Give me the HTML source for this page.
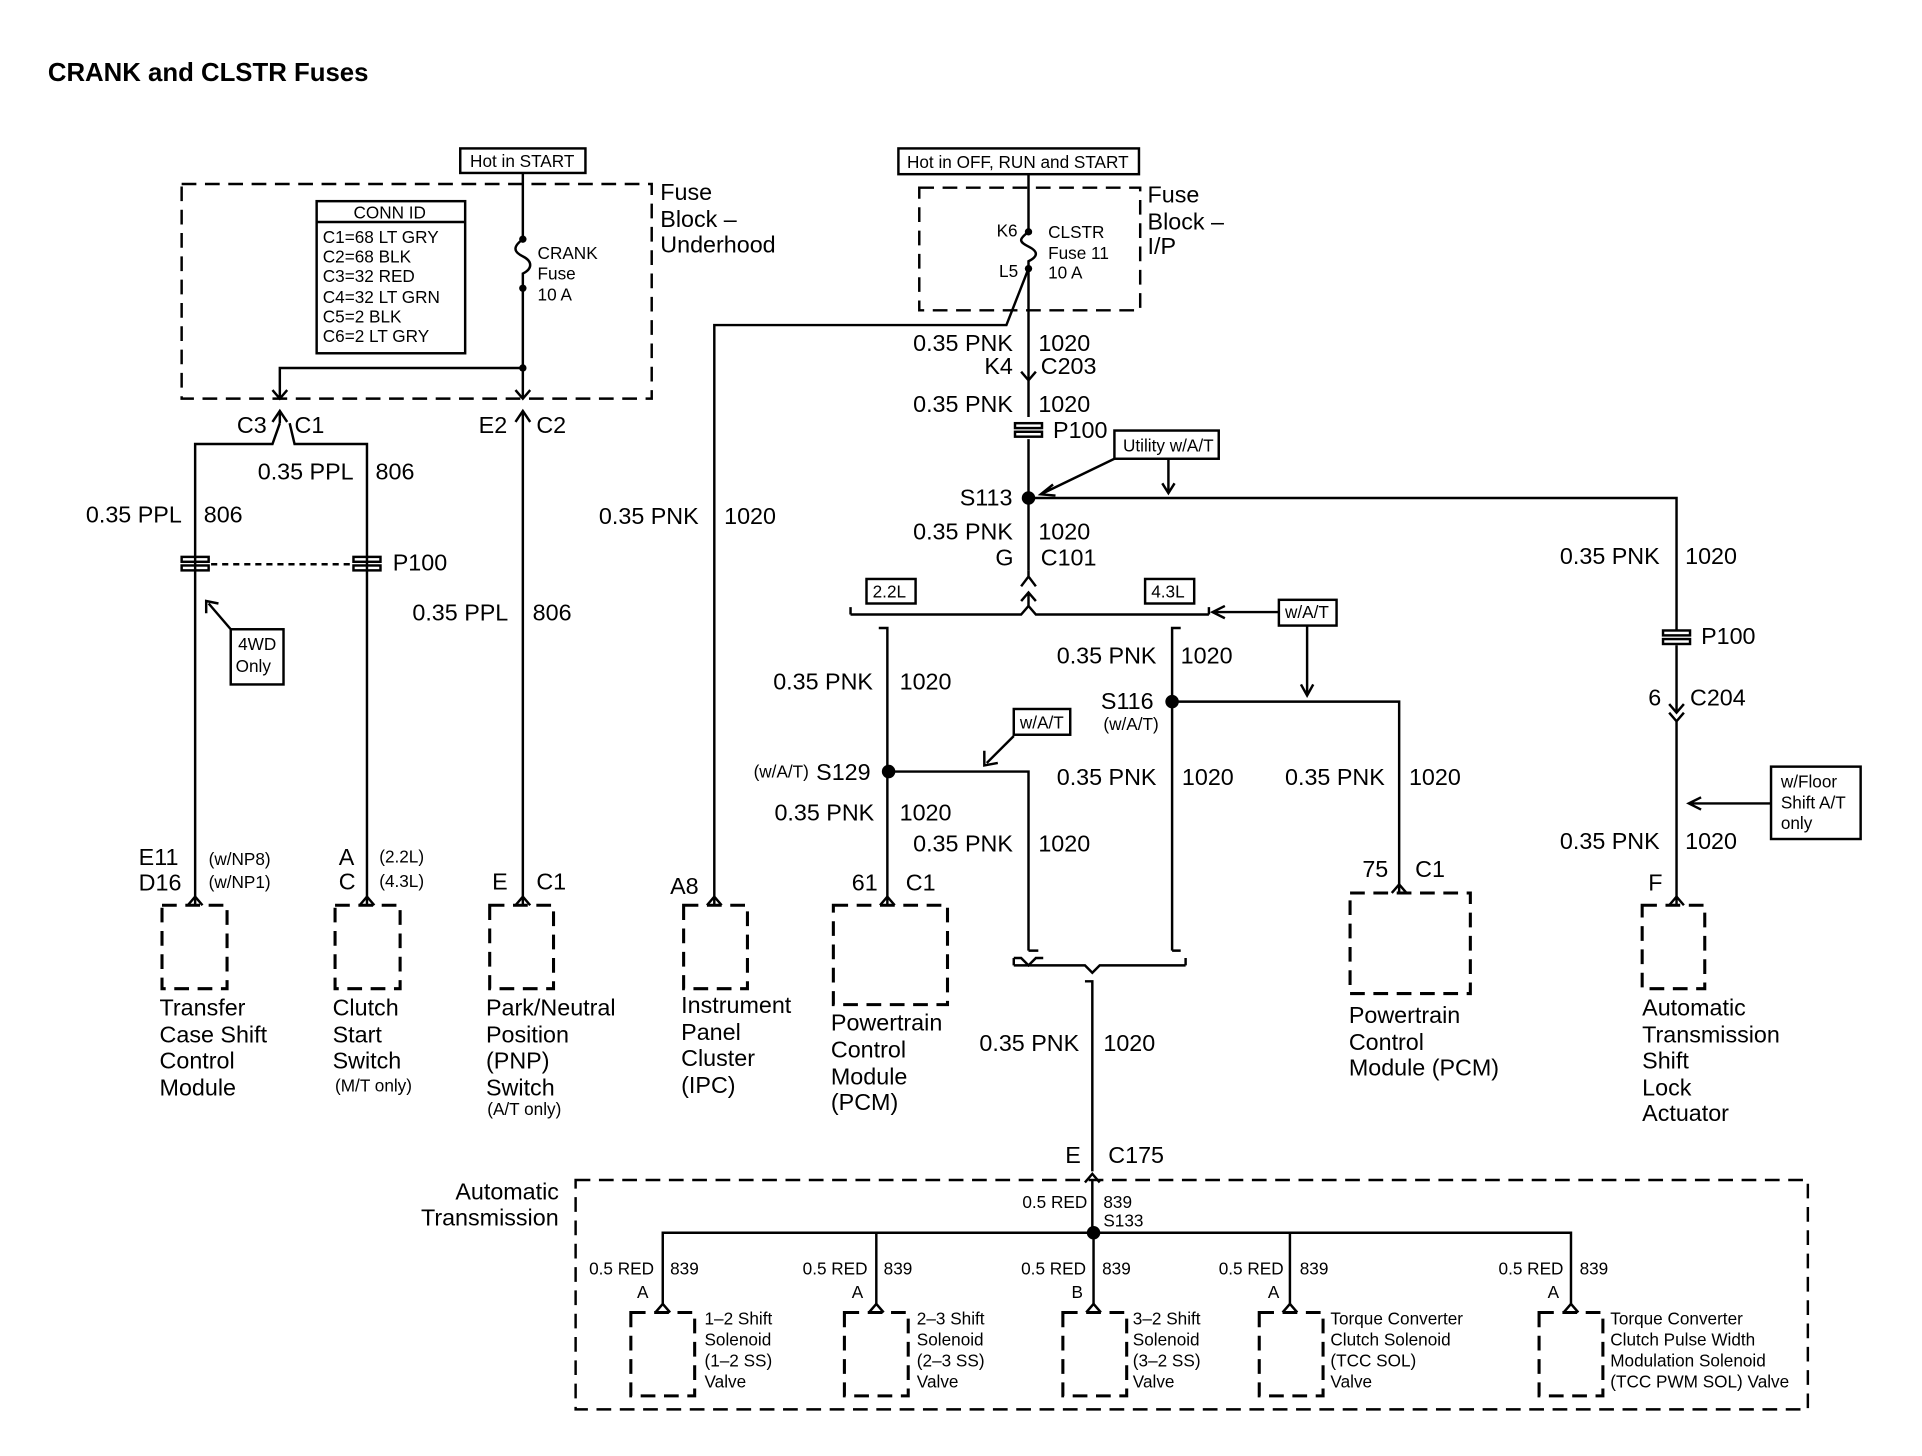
<!DOCTYPE html>
<html><head><meta charset="utf-8"><style>
html,body{margin:0;padding:0;background:#fff;}
svg{display:block;}
text{font-family:"Liberation Sans",Arial,sans-serif;fill:#000;}
.t{font-size:19px;}
.s{font-size:14px;}
</style></head><body>
<svg width="1922" height="1456" viewBox="0 0 1566 1187" preserveAspectRatio="none" xmlns="http://www.w3.org/2000/svg">
<g stroke="#000" stroke-width="2" fill="none">
<rect x="148" y="150" width="383" height="175" stroke-dasharray="12,7"/>
<rect x="258" y="164" width="121" height="124"/>
<line x1="258" y1="181" x2="379" y2="181"/>
<rect x="375" y="121" width="102" height="20"/>
<path d="M426 141 V195 M426 235 V325"/>
<path d="M426 195 c-8 6 -8 10 0 14 c8 4 8 10 0 14 v12"/>
<path d="M426 300 H228 V325 M222 318 L228 325 L234 318 M420 318 L426 325 L432 318"/>
<path d="M222 344 L228 335 L234 344 M420 344 L426 335 L432 344"/>
<path d="M228 335 V345 M159 738 V362 H222 L228 345 M236 345 L240 362 H299 V738"/>
<path d="M426 335 V738"/>
<rect x="148" y="454" width="22" height="4"/><rect x="148" y="461" width="22" height="4"/>
<rect x="288" y="454" width="22" height="4"/><rect x="288" y="461" width="22" height="4"/>
<line x1="172" y1="460" x2="286" y2="460" stroke-dasharray="5,4"/>
<rect x="188" y="513" width="43" height="45"/>
<path d="M188 513 L170 492 M168 500 L168 490 L178 492"/>
<rect x="732" y="121" width="196" height="21"/>
<rect x="749" y="153" width="180" height="100" stroke-dasharray="12,7"/>
<path d="M838 142 V189 M838 219 V310"/>
<path d="M838 189 c-8 6 -8 8 0 12 c8 4 8 8 0 12 v6"/>
<path d="M838 219 L820 265 H582 V738"/>
<path d="M832 303 L838 310 L844 303 M838 310 V340"/>
<rect x="827" y="345" width="22" height="4"/><rect x="827" y="352" width="22" height="4"/>
<path d="M838 358 V465"/>
<rect x="908" y="351" width="85" height="23"/>
<path d="M908 374 L850 402 M858 395 L848 403 L860 404 M952 374 V402 M947 394 L952 402 L957 394"/>
<path d="M838 406 H1366 V514 M1366 526 V580"/>
<rect x="1355" y="514" width="22" height="4"/><rect x="1355" y="521" width="22" height="4"/>
<path d="M1360 574 L1366 581 L1372 574 M1360 581 L1366 588 L1372 581 M1366 588 V738"/>
<rect x="1443" y="625" width="73" height="59"/>
<path d="M1443 655 H1378 M1386 650 L1376 655 L1386 660"/>
<path d="M832 478 L838 470 L844 478 M838 465 V470 M832 490 L838 483 L844 490 M838 483 V494"/>
<path d="M693 501 H832 L838 494 L844 501 H985"/>
<path d="M693 501 V495 M985 501 V495"/>
<rect x="706" y="472" width="40" height="20"/>
<rect x="933" y="472" width="40" height="20"/>
<rect x="1042" y="489" width="47" height="21"/>
<path d="M1042 499 H990 M998 494 L988 499 L998 504 M1065 510 V566 M1060 558 L1065 567 L1070 558"/>
<path d="M716 512 H723 V738 M962 512 H955 V775"/>
<path d="M724 629 H838 V775 M955 572 H1140 V728"/>
<rect x="826" y="578" width="46" height="21"/>
<path d="M826 600 L804 622 M802 612 L802 624 L813 622"/>
<path d="M826 787 V781 M966 787 V781 M826 781 H832 L838 787 L844 781 H850"/>
<path d="M826 787 H884 L890 793 L896 787 H966"/>
<path d="M838 775 H846 M955 775 H962"/>
<path d="M884 800 H890 V955 M884 964 L890 957 L896 964"/>
<rect x="469" y="962" width="1004" height="187" stroke-dasharray="12,7"/>
<path d="M890 962 V1005 M540 1063 V1005 H1280 V1063 M714 1005 V1063 M891 1005 V1063 M1051 1005 V1063"/>
<g stroke-dasharray="12,7" stroke-width="2.5">
<rect x="514" y="1070" width="52" height="68"/>
<rect x="688" y="1070" width="52" height="68"/>
<rect x="866" y="1070" width="52" height="68"/>
<rect x="1026" y="1070" width="52" height="68"/>
<rect x="1254" y="1070" width="52" height="68"/>
<rect x="132" y="738" width="53" height="68"/>
<rect x="273" y="738" width="53" height="68"/>
<rect x="399" y="738" width="52" height="68"/>
<rect x="557" y="738" width="52" height="68"/>
<rect x="679" y="738" width="93" height="81"/>
<rect x="1100" y="728" width="98" height="82"/>
<rect x="1338" y="738" width="51" height="68"/>
</g>
<g>
<path d="M153 738 L159 731 L165 738 M293 738 L299 731 L305 738 M420 738 L426 731 L432 738 M576 738 L582 731 L588 738 M717 738 L723 731 L729 738 M1134 728 L1140 721 L1146 728 M1360 738 L1366 731 L1372 738"/>
<path d="M534 1070 L540 1063 L546 1070 M708 1070 L714 1063 L720 1070 M885 1070 L891 1063 L897 1070 M1045 1070 L1051 1063 L1057 1070 M1274 1070 L1280 1063 L1286 1070"/>
</g>
</g>
<g fill="#000">
<circle cx="426" cy="300" r="3"/><circle cx="426" cy="195" r="3"/><circle cx="426" cy="235" r="3"/>
<circle cx="838" cy="189" r="3"/><circle cx="838" cy="219" r="3"/>
<circle cx="838" cy="406" r="5.5"/><circle cx="724" cy="629" r="5.5"/><circle cx="955" cy="572" r="5.5"/><circle cx="891" cy="1005" r="5.5"/>
</g>
<text x="39" y="66" style="font-size:21px;font-weight:bold">CRANK and CLSTR Fuses</text>
<g class="s">
<text x="383" y="136">Hot in START</text>
<text x="288" y="178">CONN ID</text>
<text x="263" y="198">C1=68 LT GRY</text>
<text x="263" y="214">C2=68 BLK</text>
<text x="263" y="230">C3=32 RED</text>
<text x="263" y="247">C4=32 LT GRN</text>
<text x="263" y="263">C5=2 BLK</text>
<text x="263" y="279">C6=2 LT GRY</text>
<text x="438" y="211">CRANK</text><text x="438" y="228">Fuse</text><text x="438" y="245">10 A</text>
<text x="194" y="530">4WD</text><text x="192" y="548">Only</text>
<text x="170" y="705">(w/NP8)</text><text x="170" y="724">(w/NP1)</text>
<text x="309" y="703">(2.2L)</text><text x="309" y="723">(4.3L)</text>
<text x="273" y="890">(M/T only)</text><text x="397" y="909">(A/T only)</text>
<text x="739" y="137">Hot in OFF, RUN and START</text>
<text x="812" y="193">K6</text><text x="814" y="226">L5</text>
<text x="854" y="194">CLSTR</text><text x="854" y="211">Fuse 11</text><text x="854" y="227">10 A</text>
<text x="915" y="368">Utility w/A/T</text>
<text x="711" y="487">2.2L</text><text x="938" y="487">4.3L</text>
<text x="1047" y="504">w/A/T</text><text x="831" y="594">w/A/T</text>
<text x="614" y="634">(w/A/T)</text><text x="899" y="595">(w/A/T)</text>
<text x="1451" y="642">w/Floor</text><text x="1451" y="659">Shift A/T</text><text x="1451" y="676">only</text>
<text x="833" y="985">0.5 RED</text><text x="899" y="985">839</text><text x="899" y="1000">S133</text>
<text x="480" y="1039">0.5 RED</text><text x="546" y="1039">839</text><text x="519" y="1058">A</text>
<text x="654" y="1039">0.5 RED</text><text x="720" y="1039">839</text><text x="694" y="1058">A</text>
<text x="832" y="1039">0.5 RED</text><text x="898" y="1039">839</text><text x="873" y="1058">B</text>
<text x="993" y="1039">0.5 RED</text><text x="1059" y="1039">839</text><text x="1033" y="1058">A</text>
<text x="1221" y="1039">0.5 RED</text><text x="1287" y="1039">839</text><text x="1261" y="1058">A</text>
<text x="574" y="1080">1–2 Shift</text><text x="574" y="1097">Solenoid</text><text x="574" y="1114">(1–2 SS)</text><text x="574" y="1131">Valve</text>
<text x="747" y="1080">2–3 Shift</text><text x="747" y="1097">Solenoid</text><text x="747" y="1114">(2–3 SS)</text><text x="747" y="1131">Valve</text>
<text x="923" y="1080">3–2 Shift</text><text x="923" y="1097">Solenoid</text><text x="923" y="1114">(3–2 SS)</text><text x="923" y="1131">Valve</text>
<text x="1084" y="1080">Torque Converter</text><text x="1084" y="1097">Clutch Solenoid</text><text x="1084" y="1114">(TCC SOL)</text><text x="1084" y="1131">Valve</text>
<text x="1312" y="1080">Torque Converter</text><text x="1312" y="1097">Clutch Pulse Width</text><text x="1312" y="1114">Modulation Solenoid</text><text x="1312" y="1131">(TCC PWM SOL) Valve</text>
</g>
<g class="t">
<text x="538" y="163">Fuse</text><text x="538" y="185">Block –</text><text x="538" y="206">Underhood</text>
<text x="193" y="353">C3</text><text x="240" y="353">C1</text><text x="390" y="353">E2</text><text x="437" y="353">C2</text>
<text x="210" y="391">0.35 PPL</text><text x="306" y="391">806</text>
<text x="70" y="426">0.35 PPL</text><text x="166" y="426">806</text>
<text x="320" y="465">P100</text>
<text x="336" y="506">0.35 PPL</text><text x="434" y="506">806</text>
<text x="113" y="705">E11</text><text x="113" y="726">D16</text>
<text x="276" y="705">A</text><text x="276" y="725">C</text>
<text x="401" y="725">E</text><text x="437" y="725">C1</text>
<text x="546" y="729">A8</text><text x="694" y="726">61</text><text x="738" y="726">C1</text>
<text x="1110" y="715">75</text><text x="1153" y="715">C1</text><text x="1343" y="726">F</text>
<text x="130" y="828">Transfer</text><text x="130" y="850">Case Shift</text><text x="130" y="871">Control</text><text x="130" y="893">Module</text>
<text x="271" y="828">Clutch</text><text x="271" y="850">Start</text><text x="271" y="871">Switch</text>
<text x="396" y="828">Park/Neutral</text><text x="396" y="850">Position</text><text x="396" y="871">(PNP)</text><text x="396" y="893">Switch</text>
<text x="555" y="826">Instrument</text><text x="555" y="848">Panel</text><text x="555" y="869">Cluster</text><text x="555" y="891">(IPC)</text>
<text x="677" y="840">Powertrain</text><text x="677" y="862">Control</text><text x="677" y="884">Module</text><text x="677" y="905">(PCM)</text>
<text x="1099" y="834">Powertrain</text><text x="1099" y="856">Control</text><text x="1099" y="877">Module (PCM)</text>
<text x="1338" y="828">Automatic</text><text x="1338" y="850">Transmission</text><text x="1338" y="871">Shift</text><text x="1338" y="893">Lock</text><text x="1338" y="914">Actuator</text>
<text x="935" y="165">Fuse</text><text x="935" y="187">Block –</text><text x="935" y="207">I/P</text>
<text x="744" y="286">0.35 PNK</text><text x="846" y="286">1020</text>
<text x="802" y="305">K4</text><text x="848" y="305">C203</text>
<text x="744" y="336">0.35 PNK</text><text x="846" y="336">1020</text>
<text x="858" y="357">P100</text>
<text x="782" y="412">S113</text>
<text x="488" y="427">0.35 PNK</text><text x="590" y="427">1020</text>
<text x="744" y="440">0.35 PNK</text><text x="846" y="440">1020</text>
<text x="811" y="461">G</text><text x="848" y="461">C101</text>
<text x="1271" y="460">0.35 PNK</text><text x="1373" y="460">1020</text>
<text x="1386" y="525">P100</text>
<text x="1343" y="575">6</text><text x="1377" y="575">C204</text>
<text x="1271" y="692">0.35 PNK</text><text x="1373" y="692">1020</text>
<text x="861" y="541">0.35 PNK</text><text x="962" y="541">1020</text>
<text x="630" y="562">0.35 PNK</text><text x="733" y="562">1020</text>
<text x="897" y="578">S116</text>
<text x="665" y="636">S129</text>
<text x="861" y="640">0.35 PNK</text><text x="963" y="640">1020</text>
<text x="1047" y="640">0.35 PNK</text><text x="1148" y="640">1020</text>
<text x="631" y="669">0.35 PNK</text><text x="733" y="669">1020</text>
<text x="744" y="694">0.35 PNK</text><text x="846" y="694">1020</text>
<text x="798" y="857">0.35 PNK</text><text x="899" y="857">1020</text>
<text x="868" y="948">E</text><text x="903" y="948">C175</text>
<text x="371" y="978">Automatic</text><text x="343" y="999">Transmission</text>
</g>
</svg>
</body></html>
